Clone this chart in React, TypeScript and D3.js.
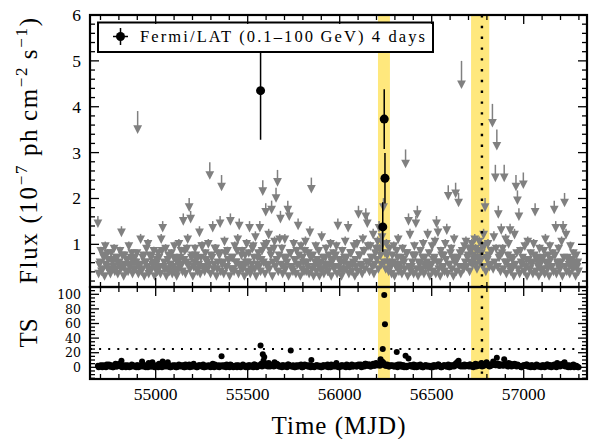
import React from 'react';
import * as d3 from 'd3';

// 4-day bins, split into two interleaved sets:
// set A at MJD = binStart + i*8, set B at MJD = binStart + 4 + i*8
const binStart = 54686;
const binWidth = 8;
const ulFluxA = [
  1.45, 0.55, 0.85, 0.45, 0.7, 0.95, 0.5, 0.65, 0.4, 0.8, 0.6, 0.9, 0.45, 0.7, 0.55, 0.85, 1.25, 0.5, 0.75, 0.4, 0.65, 0.95, 0.55, 0.8, 0.45,
  0.7, 0.6, 3.5, 0.5, 1.1, 0.45, 0.75, 0.6, 0.9, 1.0, 0.4, 0.7, 0.55, 0.85, 0.45, 0.65, 0.8, 0.5, 1.1, 1.35, 0.6, 0.9, 0.45, 0.75, 0.55,
  0.8, 0.5, 0.95, 0.65, 0.4, 1.0, 0.7, 0.55, 1.5, 0.85, 0.6, 1.1, 1.8, 1.55, 0.75, 0.5, 0.9, 0.65, 0.45, 1.25, 0.7, 0.95, 0.5, 0.8, 0.6,
  1.0, 2.5, 0.75, 1.35, 0.55, 0.9, 0.45, 0.8, 1.45, 2.25, 0.6, 1.05, 0.5, 0.85, 0.65, 1.5, 0.7, 0.45, 0.95, 0.6, 1.1, 1.4, 0.55, 0.85, 0.5,
  0.75, 1.0, 0.6, 1.35, 0.45, 0.9, 0.7, 1.15, 0.55, 0.8, 1.35, 0.65, 2.15, 0.95, 1.7, 0.5, 1.2, 0.85, 1.75, 0.6, 1.05, 2.0, 2.35, 0.75, 1.55,
  0.9, 0.5, 1.1, 0.7, 1.75, 1.6, 0.8, 0.45, 1.0, 0.65, 0.85, 1.4, 0.55, 0.95, 0.7, 0.4, 1.05, 0.6, 0.8, 1.25, 2.2, 0.75, 0.5, 0.95, 0.65,
  0.85, 0.45, 1.15, 0.7, 0.55, 0.9, 0.4, 0.75, 1.0, 0.6, 0.8, 0.5, 0.95, 1.4, 0.65, 0.45, 0.85, 0.6, 1.05, 0.7, 1.35, 0.5, 0.8, 0.55, 0.95,
  0.65, 1.0, 1.65, 0.75, 0.5, 1.1, 0.85, 1.6, 1.45, 0.6, 0.95, 0.7, 1.2, 0.55, 0.9, 1.05, 1.35, 0.75, 1.15, 1.8, 0.8, 1.0, 0.6, 0.9, 0.5,
  0.75, 0.95, 0.55, 0.85, 1.1, 0.45, 0.7, 0.9, 0.6, 2.75, 0.8, 1.5, 1.2, 0.5, 0.75, 0.95, 1.45, 1.65, 0.6, 0.85, 0.45, 1.0, 0.7, 0.55, 1.2,
  0.8, 0.5, 0.95, 0.65, 1.05, 1.45, 1.25, 0.6, 0.85, 0.45, 0.75, 1.0, 1.3, 2.05, 0.55, 0.9, 0.7, 1.1, 2.1, 0.65, 1.9, 0.8, 4.48, 0.5, 0.95,
  1.05, 0.7, 0.9, 0.6, 1.0, 0.75, 1.1, 0.55, 0.85, 1.05, 0.65, 0.95, 1.2, 1.8, 0.7, 1.0, 0.5, 0.85, 3.64, 1.15, 2.45, 3.14, 1.65, 0.75, 1.3,
  0.9, 2.45, 1.1, 0.6, 1.0, 1.3, 0.7, 0.5, 1.2, 2.25, 1.95, 1.6, 0.85, 0.55, 2.3, 0.95, 0.65, 1.05, 0.45, 0.8, 0.6, 1.0, 1.7, 0.7, 0.5,
  0.9, 0.65, 0.45, 0.85, 1.1, 0.55, 0.75, 0.95, 0.5, 0.8, 1.75, 1.35, 0.6, 0.9, 0.45, 1.05, 1.35, 1.9, 1.2, 0.7, 0.55, 0.95, 0.65, 0.8, 0.5, 0.75, 0.6,
];
const ulFluxB = [
  0.35, 0.6, 0.4, 0.75, 0.3, 0.55, 0.8, 0.45, 0.35, 0.65, 0.5, 0.4, 0.7, 0.35, 0.6, 0.45, 0.75, 0.3, 0.55, 0.65, 0.4, 0.5, 0.7, 0.35, 0.6,
  0.45, 0.8, 0.35, 0.55, 0.4, 0.7, 0.3, 0.6, 0.5, 0.35, 0.75, 0.45, 0.6, 0.3, 0.55, 0.4, 0.7, 0.35, 0.85, 0.5, 0.45, 0.3, 0.65, 0.4, 0.55,
  0.35, 0.7, 0.45, 0.3, 0.6, 0.5, 0.85, 0.4, 0.65, 0.35, 0.9, 0.55, 0.45, 0.7, 0.3, 0.6, 0.75, 0.4, 0.55, 0.35, 0.95, 0.5, 0.4, 0.65, 0.45,
  0.55, 0.35, 0.7, 0.45, 0.9, 0.3, 0.6, 0.75, 0.4, 0.55, 0.35, 0.8, 0.5, 0.65, 0.3, 0.45, 0.7, 0.4, 0.6, 0.85, 0.35, 0.5, 0.75, 0.45, 0.3,
  0.6, 0.4, 0.8, 0.35, 0.55, 0.95, 0.45, 0.3, 0.7, 0.5, 0.4, 0.85, 0.6, 0.35, 1.0, 0.55, 0.45, 0.75, 0.3, 0.9, 0.5, 0.65, 0.4, 1.1, 0.55,
  0.35, 0.7, 0.45, 0.6, 0.3, 0.8, 0.5, 0.4, 0.65, 0.35, 0.55, 0.75, 0.3, 0.45, 0.6, 0.85, 0.4, 0.5, 0.35, 0.7, 0.45, 0.3, 0.6, 0.4, 0.55,
  0.3, 0.6, 0.45, 0.35, 0.7, 0.5, 0.4, 0.55, 0.3, 0.65, 0.45, 0.75, 0.35, 0.5, 0.6, 0.3, 0.4, 0.7, 0.45, 0.55, 0.35, 0.8, 0.4, 0.6, 0.3,
  0.5, 0.4, 0.75, 0.55, 0.35, 0.85, 0.45, 0.6, 0.95, 0.4, 0.7, 0.5, 0.35, 0.8, 0.65, 0.45, 0.9, 0.55, 1.0, 0.6, 0.45, 0.75, 0.4, 0.55, 0.35,
  0.6, 0.3, 0.5, 0.7, 0.4, 0.55, 0.35, 0.65, 0.45, 0.8, 0.3, 0.5, 0.4, 0.6, 0.35, 0.75, 0.45, 0.3, 0.55, 0.4, 0.7, 0.35, 0.5, 0.6, 0.45,
  0.3, 0.55, 0.4, 0.7, 0.35, 0.6, 0.45, 0.3, 0.75, 0.5, 0.4, 0.65, 0.35, 0.55, 0.8, 0.45, 0.3, 0.6, 0.4, 0.7, 0.5, 0.35, 0.85, 0.45, 0.6,
  0.5, 0.75, 0.4, 0.85, 0.55, 0.65, 0.9, 0.45, 0.7, 0.6, 0.8, 0.5, 0.95, 0.4, 0.65, 0.75, 0.55, 0.85, 0.45, 0.6, 0.9, 0.5, 0.7, 0.4, 0.8,
  0.45, 0.6, 0.35, 0.75, 0.5, 0.4, 0.65, 0.3, 0.55, 0.8, 0.45, 0.35, 0.6, 0.7, 0.4, 0.5, 0.3, 0.65, 0.45, 0.55, 0.35, 0.75, 0.4, 0.6, 0.3,
  0.55, 0.4, 0.7, 0.35, 0.6, 0.45, 0.3, 0.65, 0.5, 0.4, 0.75, 0.35, 0.55, 0.45, 0.6, 0.3, 0.7, 0.5, 0.4, 0.65, 0.35, 0.55, 0.45, 0.6, 0.3, 0.5, 0.4,
];
const tsValuesA = [
  2, 1, 3, 0, 2, 1, 4, 2, 1, 3, 0, 2, 5, 1, 2, 3, 9, 1, 2, 0, 3, 1, 2, 4, 1,
  2, 0, 3, 1, 2, 8, 1, 3, 2, 0, 4, 1, 7, 2, 1, 3, 0, 2, 1, 8, 2, 3, 1, 2, 0,
  1, 3, 2, 0, 1, 4, 2, 1, 3, 0, 2, 1, 4, 3, 1, 5, 2, 0, 1, 3, 2, 1, 0, 2, 1,
  3, 2, 1, 5, 0, 2, 1, 3, 2, 15, 1, 3, 0, 2, 1, 4, 2, 0, 1, 3, 2, 1, 0, 2, 3,
  1, 2, 0, 3, 1, 2, 4, 1, 0, 2, 3, 5, 18, 14, 4, 2, 6, 1, 3, 2, 7, 3, 4, 1, 2,
  0, 3, 1, 2, 4, 3, 23, 1, 2, 0, 3, 1, 2, 4, 0, 1, 2, 3, 1, 2, 10, 1, 0, 2, 3,
  1, 2, 0, 3, 1, 2, 4, 1, 0, 2, 3, 1, 6, 2, 0, 1, 3, 2, 1, 4, 2, 0, 3, 1, 2,
  3, 1, 4, 2, 0, 3, 1, 5, 2, 4, 1, 3, 5, 2, 6, 3, 4, 11, 8, 6, 4, 2, 3, 1, 2,
  3, 1, 2, 21, 4, 2, 1, 3, 0, 16, 2, 12, 3, 1, 2, 0, 3, 1, 2, 4, 1, 0, 2, 3, 1,
  2, 0, 1, 3, 2, 1, 4, 2, 0, 1, 3, 2, 1, 4, 0, 2, 3, 1, 5, 7, 9, 3, 2, 1, 4,
  2, 3, 1, 4, 2, 0, 3, 1, 2, 4, 3, 1, 2, 5, 7, 3, 1, 2, 4, 6, 3, 13, 5, 2, 4,
  3, 11, 4, 2, 6, 3, 1, 2, 5, 3, 4, 2, 1, 0, 3, 2, 4, 1, 2, 0, 3, 1, 2, 4, 1,
  2, 0, 3, 1, 2, 4, 1, 3, 0, 2, 4, 3, 6, 2, 1, 3, 5, 7, 2, 1, 3, 0, 2, 4, 1, 2, 0,
];
const tsValuesB = [
  0, 2, 1, 3, 1, 0, 2, 4, 1, 2, 0, 3, 1, 2, 5, 1, 0, 2, 3, 1, 2, 0, 1, 3, 2,
  1, 3, 0, 2, 1, 4, 2, 0, 1, 6, 2, 1, 3, 0, 2, 1, 5, 2, 0, 3, 1, 2, 7, 1, 0,
  2, 1, 3, 0, 2, 1, 3, 2, 0, 4, 1, 2, 0, 3, 1, 2, 1, 0, 3, 2, 1, 4, 0, 2, 1,
  2, 0, 3, 1, 4, 2, 1, 0, 2, 3, 1, 2, 4, 1, 0, 3, 2, 1, 2, 0, 3, 1, 2, 4, 1,
  0, 2, 3, 1, 2, 0, 4, 3, 1, 2, 3, 1, 9, 2, 5, 1, 3, 2, 4, 1, 2, 5, 3, 1, 2,
  3, 1, 2, 0, 4, 2, 1, 3, 0, 2, 1, 3, 2, 0, 1, 4, 2, 1, 3, 0, 2, 1, 2, 3, 1,
  2, 0, 1, 3, 2, 1, 0, 2, 4, 1, 3, 2, 1, 0, 2, 3, 1, 2, 0, 3, 1, 2, 4, 1, 2,
  1, 3, 2, 4, 1, 2, 5, 3, 2, 4, 1, 3, 2, 5, 3, 4, 2, 6, 7, 3, 2, 4, 1, 3, 2,
  2, 1, 3, 0, 2, 4, 1, 3, 2, 0, 1, 2, 3, 1, 4, 2, 0, 3, 1, 2, 0, 2, 3, 1, 2,
  1, 2, 0, 3, 1, 2, 4, 1, 0, 2, 3, 1, 2, 0, 3, 1, 2, 4, 3, 5, 2, 1, 3, 2, 1,
  3, 2, 4, 1, 3, 2, 5, 4, 2, 3, 6, 2, 4, 3, 5, 2, 4, 3, 8, 4, 3, 5, 2, 4, 3,
  2, 4, 3, 1, 2, 5, 3, 2, 4, 1, 3, 2, 0, 1, 3, 2, 4, 1, 2, 3, 1, 0, 2, 3, 1,
  2, 1, 3, 0, 2, 4, 1, 3, 2, 1, 3, 0, 2, 4, 3, 5, 2, 1, 3, 0, 2, 1, 3, 0, 2, 1, 0,
];

// Detections
const detMJD = [55570, 56234, 56242, 56246];
const detFlux = [4.35, 1.38, 3.73, 2.44];
const detErr = [1.07, 0.54, 0.65, 0.55];
const detTS = [30, 25, 99, 59];

const bandStarts = [56208, 56714];
const bandEnds = [56273, 56813];
const markerMJD = 56773;
const tsThreshold = 25;

const xMajor = [55000, 55500, 56000, 56500, 57000];
const fluxMajor = [1, 2, 3, 4, 5, 6];
const tsMajor = [0, 20, 40, 60, 80, 100];

const W = 590, H = 439;
const L = 90, R = 587, T = 15, M = 287, B = 379;
const FONT = "'Liberation Serif', 'DejaVu Serif', serif";
const GREY = '#808080';
const YELLOW = 'rgb(255,232,125)';

export default function App() {
  const x = d3.scaleLinear().domain([54643, 57344]).range([L, R]);
  const yF = d3.scaleLinear().domain([0.07, 6]).range([M, T]);
  const yT = d3.scaleLinear().domain([-16, 110]).range([B, M]);

  const xMinor = d3.range(54700, 57344, 100).filter((v) => v % 500 !== 0);
  const fMinor = d3.range(0.2, 6, 0.2).filter((v) => Math.abs(v - Math.round(v)) > 1e-6);
  const tMinor = d3.range(-15, 110, 5).filter((v) => v % 20 !== 0);

  const ul = [
    ...ulFluxA.map((v, i) => ({ t: binStart + i * binWidth, v })),
    ...ulFluxB.map((v, i) => ({ t: binStart + binWidth / 2 + i * binWidth, v })),
  ].sort((a, b) => a.t - b.t);
  const ts = [
    ...tsValuesA.map((v, i) => ({ t: binStart + i * binWidth, v })),
    ...tsValuesB.map((v, i) => ({ t: binStart + binWidth / 2 + i * binWidth, v })),
  ];

  const maj = 9, mnr = 5;
  const tickStroke = { stroke: '#000', strokeWidth: 1.3 };

  const xTickLines = (yEdge: number, dir: number, key: string) => (
    <g key={key}>
      {xMajor.map((v) => (
        <line key={'M' + v} x1={x(v)} x2={x(v)} y1={yEdge} y2={yEdge + dir * maj} {...tickStroke} />
      ))}
      {xMinor.map((v) => (
        <line key={'m' + v} x1={x(v)} x2={x(v)} y1={yEdge} y2={yEdge + dir * mnr} {...tickStroke} />
      ))}
    </g>
  );

  const yTickLines = (scale: any, major: number[], minor: number[], key: string) => (
    <g key={key}>
      {major.map((v) => (
        <g key={'M' + v}>
          <line x1={L} x2={L + maj} y1={scale(v)} y2={scale(v)} {...tickStroke} />
          <line x1={R} x2={R - maj} y1={scale(v)} y2={scale(v)} {...tickStroke} />
        </g>
      ))}
      {minor.map((v) => (
        <g key={'m' + v}>
          <line x1={L} x2={L + mnr} y1={scale(v)} y2={scale(v)} {...tickStroke} />
          <line x1={R} x2={R - mnr} y1={scale(v)} y2={scale(v)} {...tickStroke} />
        </g>
      ))}
    </g>
  );

  const tri = (cx: number, cy: number) =>
    `M${cx - 4.4},${cy - 4.3}L${cx + 4.4},${cy - 4.3}L${cx},${cy + 4.3}Z`;

  return (
    <svg width={W} height={H} style={{ position: 'absolute', left: 0, top: 0, background: '#fff' }} fontFamily={FONT}>
      <defs>
        <clipPath id="clipTop"><rect x={L} y={T} width={R - L} height={M - T} /></clipPath>
        <clipPath id="clipBot"><rect x={L} y={M} width={R - L} height={B - M} /></clipPath>
      </defs>

      {/* yellow bands */}
      {bandStarts.map((s, i) => (
        <g key={'band' + i}>
          <rect x={x(s)} y={T} width={x(bandEnds[i]) - x(s)} height={M - T} fill={YELLOW} />
          <rect x={x(s)} y={M} width={x(bandEnds[i]) - x(s)} height={B - M} fill={YELLOW} />
        </g>
      ))}

      {/* upper limits */}
      <g clipPath="url(#clipTop)">
        {ul.map((d, i) => {
          const cx = x(d.t);
          const cy = yF(d.v);
          return (
            <g key={'ul' + i}>
              <line x1={cx} x2={cx} y1={cy} y2={yF(d.v * 1.116)} stroke={GREY} strokeWidth={1.5} />
              <path d={tri(cx, cy)} fill={GREY} />
            </g>
          );
        })}
        {/* detections */}
        {detMJD.map((t, i) => (
          <g key={'det' + i}>
            <line x1={x(t)} x2={x(t)} y1={yF(detFlux[i] - detErr[i])} y2={yF(detFlux[i] + detErr[i])} stroke="#000" strokeWidth={1.5} />
            <circle cx={x(t)} cy={yF(detFlux[i])} r={4.5} fill="#000" />
          </g>
        ))}
      </g>

      {/* TS panel */}
      <g clipPath="url(#clipBot)">
        <line x1={L} x2={R} y1={yT(tsThreshold)} y2={yT(tsThreshold)} stroke="#000" strokeWidth={2} strokeDasharray="2,7.1" />
        {ts.map((d, i) => (
          <circle key={'ts' + i} cx={x(d.t)} cy={yT(d.v)} r={3} fill="#000" />
        ))}
        {detMJD.map((t, i) => (
          <circle key={'tsd' + i} cx={x(t)} cy={yT(detTS[i])} r={3} fill="#000" />
        ))}
      </g>

      {/* vertical dotted marker */}
      <line x1={x(markerMJD)} x2={x(markerMJD)} y1={T} y2={B} stroke="#000" strokeWidth={2.4} strokeDasharray="2.4,8.4" />

      {/* legend */}
      <rect x={98} y={22.5} width={335} height={29.5} fill="#fff" stroke="#000" strokeWidth={2} />
      <line x1={120.5} x2={120.5} y1={28} y2={45} stroke="#000" strokeWidth={1.5} />
      <line x1={113} x2={128} y1={36.5} y2={36.5} stroke="#000" strokeWidth={1.5} />
      <circle cx={120.5} cy={36.5} r={4.5} fill="#000" />
      <text x={140} y={42} fontSize={16.5} textLength={285} lengthAdjust="spacing">
        Fermi/LAT (0.1–100{'\u2009'}GeV) 4 days
      </text>

      {/* ticks */}
      {xTickLines(T, 1, 'xt1')}
      {xTickLines(M, -1, 'xt2')}
      {xTickLines(M, 1, 'xt3')}
      {xTickLines(B, -1, 'xt4')}
      {yTickLines(yF, fluxMajor, fMinor, 'yf')}
      {yTickLines(yT, tsMajor, tMinor, 'yt')}

      {/* frames */}
      <rect x={L} y={T} width={R - L} height={M - T} fill="none" stroke="#000" strokeWidth={2.2} />
      <rect x={L} y={M} width={R - L} height={B - M} fill="none" stroke="#000" strokeWidth={2.2} />

      {/* tick labels */}
      {fluxMajor.map((v) => (
        <text key={'fl' + v} x={81} y={yF(v) + 6} fontSize={17.5} textAnchor="end">{v}</text>
      ))}
      {tsMajor.map((v) => (
        <text key={'tl' + v} x={81} y={yT(v) + 4.6} fontSize={12.5} fontFamily="'DejaVu Serif', serif" textAnchor="end">{v}</text>
      ))}
      {xMajor.map((v) => (
        <text key={'xl' + v} x={x(v)} y={400} fontSize={17.5} textAnchor="middle">{v}</text>
      ))}

      {/* axis labels */}
      <text x={(L + R) / 2} y={434} fontSize={25} textAnchor="middle" textLength={134} lengthAdjust="spacing">Time (MJD)</text>
      <text transform={`translate(37,${(T + M) / 2}) rotate(-90)`} fontSize={25} textAnchor="middle" textLength={266} lengthAdjust="spacing">
        Flux (10<tspan dy={-10} fontSize={17}>−7</tspan><tspan dy={10}> ph{'\u2009'}cm</tspan><tspan dy={-10} fontSize={17}>−2</tspan><tspan dy={10}>{'\u2009'}s</tspan><tspan dy={-10} fontSize={17}>−1</tspan><tspan dy={10}>)</tspan>
      </text>
      <text transform={`translate(37,${(M + B) / 2}) rotate(-90)`} fontSize={25} textAnchor="middle">TS</text>
    </svg>
  );
}
